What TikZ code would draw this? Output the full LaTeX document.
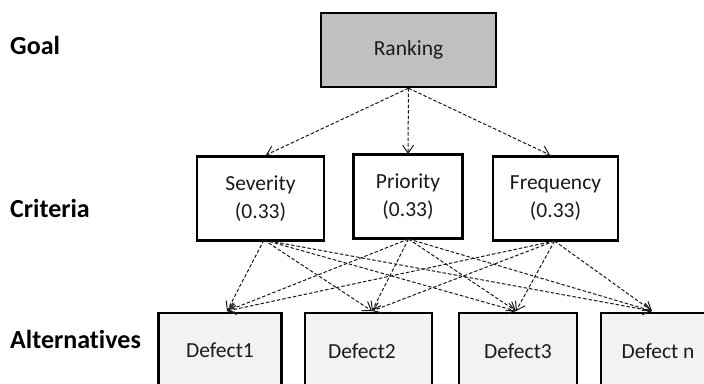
\documentclass[tikz,border=0pt]{standalone}
\usepackage{fontspec}
\setmainfont[Ligatures=NoCommon]{Carlito}
\usetikzlibrary{arrows.meta}
\definecolor{rankgray}{HTML}{C0C0C0}
\definecolor{defgray}{HTML}{F2F2F2}
\definecolor{txt}{HTML}{1A1A1A}
\tikzset{
  box/.style={draw=black, line width=2.4pt, inner sep=0pt, font=\fontsize{21.5}{25}\selectfont, text=txt, align=center},
  lvl/.style={anchor=west, inner sep=0pt, font=\fontsize{26}{30}\selectfont\bfseries, text=black},
  conn/.style={dashed, dash pattern=on 3.5pt off 2pt, line width=1pt, draw=black!90, -{Straight Barb[length=8pt,width=11pt,line width=1pt]}}
}
\begin{document}
\begin{tikzpicture}[x=1pt,y=-1pt]
\useasboundingbox (0,0) rectangle (704,383);
\clip (0,0) rectangle (704,383);
% level labels
\node[lvl] (lgoal) at (10,45) {Goal};
\node[lvl] (lcrit) at (10,208) {Criteria};
\node[lvl] (lalt) at (10,339) {Alternatives};
% goal
\node[box, fill=rankgray, minimum width=175pt, minimum height=74pt] (rank) at (408.5,50) {Ranking};
% criteria
\node[box, fill=white, minimum width=127pt, minimum height=84pt] (sev) at (260.5,198.5) {Severity\\[3pt](0.33)};
\node[box, fill=white, minimum width=109pt, minimum height=84pt] (pri) at (408,196.5) {Priority\\[3pt](0.33)};
\node[box, fill=white, minimum width=125pt, minimum height=84pt] (fre) at (555.5,198.5) {Frequency\\[3pt](0.33)};
% alternatives
\node[box, fill=defgray, minimum width=123pt, minimum height=100pt, anchor=north] (d1) at (220,312) {};
\node[box, fill=defgray, minimum width=127pt, minimum height=100pt, anchor=north] (d2) at (368.5,312) {};
\node[box, fill=defgray, minimum width=118pt, minimum height=100pt, anchor=north] (d3) at (518,312) {};
\node[box, fill=defgray, minimum width=114pt, minimum height=100pt, anchor=north] (d4) at (658,312) {};
\node[box, draw=none, fill=none] (t1) at (220,350) {Defect1};
\node[box, draw=none, fill=none] (t2) at (362,351) {Defect2};
\node[box, draw=none, fill=none] (t3) at (518,351) {Defect3};
\node[box, draw=none, fill=none] (t4) at (658,351) {Defect n};
% arrow targets
\coordinate (a1) at (227,311);
\coordinate (a2) at (372,311);
\coordinate (a3) at (516,311);
\coordinate (a4) at (652,311);
\coordinate (ssev) at (264,240);
\coordinate (spri) at (408.5,239);
\coordinate (sfre) at (554.5,241);
\coordinate (nsev) at (266,155);
\coordinate (npri) at (408,154);
\coordinate (nfre) at (550,155);
% goal -> criteria
\draw[conn] (rank.south) -- (nsev);
\draw[conn] (rank.south) -- (npri);
\draw[conn] (rank.south) -- (nfre);
% criteria -> alternatives
\foreach \s in {ssev,spri,sfre}{
  \foreach \t in {a1,a2,a3,a4}{
    \draw[conn] (\s) -- (\t);
  }
}
\end{tikzpicture}
\end{document}
